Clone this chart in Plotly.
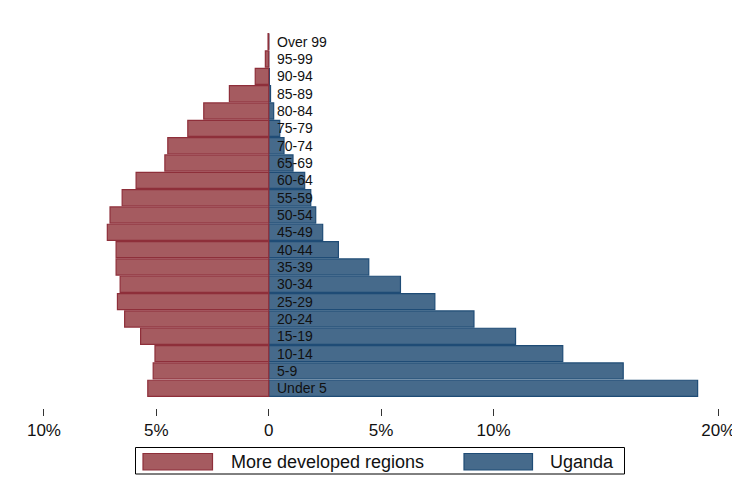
import plotly.graph_objects as go

age_groups = ["Under 5", "5-9", "10-14", "15-19", "20-24", "25-29", "30-34", "35-39",
              "40-44", "45-49", "50-54", "55-59", "60-64", "65-69", "70-74", "75-79",
              "80-84", "85-89", "90-94", "95-99", "Over 99"]
more_developed = [5.38, 5.14, 5.06, 5.70, 6.41, 6.73, 6.61, 6.79, 6.79, 7.18, 7.06,
                  6.52, 5.90, 4.62, 4.49, 3.60, 2.89, 1.75, 0.60, 0.15, 0.03]
uganda = [19.08, 15.77, 13.08, 10.98, 9.13, 7.39, 5.86, 4.45, 3.10, 2.40, 2.09,
          1.87, 1.60, 1.08, 0.68, 0.49, 0.22, 0.08, 0.03, 0.0, 0.0]
tick_vals = [-10, -5, 0, 5, 10, 20]
tick_text = ["10%", "5%", "0", "5%", "10%", "20%"]
series_names = ["More developed regions", "Uganda"]

RED_FILL, RED_LINE = "#a55b60", "#8e2f3a"
BLUE_FILL, BLUE_LINE = "#466a8b", "#1f4c76"
FONT = "Liberation Sans, Arial, sans-serif"

OFF = 8  # page body margin
W, H = 740 - OFF, 477 - OFF
L, R, T = 30 - OFF, 10, 30 - OFF
B = H - (408 - OFF)
PW, PH = W - L - R, H - T - B

ypos = list(range(len(age_groups)))

fig = go.Figure()
fig.add_trace(go.Bar(
    y=ypos, x=uganda, orientation="h", name=series_names[1],
    marker=dict(color=BLUE_FILL, line=dict(color=BLUE_LINE, width=1.2)),
    width=0.93, showlegend=False, hoverinfo="x+name"))
fig.add_trace(go.Bar(
    y=ypos, x=[-v for v in more_developed], orientation="h", name=series_names[0],
    marker=dict(color=RED_FILL, line=dict(color=RED_LINE, width=1.2)),
    width=0.93, showlegend=False, hoverinfo="x+name"))

annotations = []
for i, lab in enumerate(age_groups):
    annotations.append(dict(x=0, y=i, xref="x", yref="y", text=lab, showarrow=False,
                            xanchor="left", yanchor="middle", xshift=6,
                            font=dict(family=FONT, size=14, color="#111111")))

def px_x(p):
    return (p - OFF - L) / PW

def px_y(p):
    return (H - B - (p - OFF)) / PH

shapes = [
    dict(type="rect", xref="paper", yref="paper", x0=px_x(135.5), x1=px_x(624.5),
         y0=px_y(474), y1=px_y(447.5), line=dict(color="#000000", width=1),
         fillcolor="white", layer="above"),
    dict(type="rect", xref="paper", yref="paper", x0=px_x(143), x1=px_x(212.5),
         y0=px_y(470), y1=px_y(453.5), line=dict(color=RED_LINE, width=1.2),
         fillcolor=RED_FILL, layer="above"),
    dict(type="rect", xref="paper", yref="paper", x0=px_x(464), x1=px_x(532.5),
         y0=px_y(470), y1=px_y(453.5), line=dict(color=BLUE_LINE, width=1.2),
         fillcolor=BLUE_FILL, layer="above"),
]
annotations.append(dict(x=px_x(229), y=px_y(462), xref="paper", yref="paper",
                        text=series_names[0], showarrow=False, xanchor="left",
                        yanchor="middle", font=dict(family=FONT, size=18, color="#111111")))
annotations.append(dict(x=px_x(548), y=px_y(462), xref="paper", yref="paper",
                        text=series_names[1], showarrow=False, xanchor="left",
                        yanchor="middle", font=dict(family=FONT, size=18, color="#111111")))

fig.update_layout(
    width=W, height=H, margin=dict(l=L, r=R, t=T, b=B, autoexpand=False),
    plot_bgcolor="white", paper_bgcolor="white", barmode="overlay",
    showlegend=False, shapes=shapes, annotations=annotations,
    xaxis=dict(range=[-10.62, 20.52], tickvals=tick_vals, ticktext=tick_text,
               ticks="outside", ticklen=7, tickwidth=1, tickcolor="#333333",
               showgrid=False, zeroline=False, showline=False,
               tickfont=dict(family=FONT, size=17, color="#111111"), fixedrange=True),
    yaxis=dict(range=[-1.137, 20.675], showticklabels=False, showgrid=False,
               zeroline=False, showline=False, ticks="", fixedrange=True),
)

fig.write_html("out.html")
